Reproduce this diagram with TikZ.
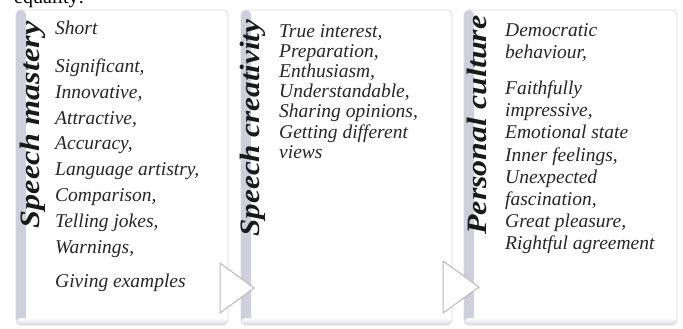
\documentclass[tikz,border=0pt]{standalone}
\usepackage{fontspec}
\setmainfont{Liberation Serif}
\usepackage{tikz}
\usetikzlibrary{positioning}

\definecolor{edgeshade}{RGB}{205,205,220}

\tikzset{
    panel/.style={draw=gray!30, line width=0.8pt, rounded corners=5pt, fill=white,
        minimum height=315pt, inner sep=0pt,
        path picture={
            \fill[left color=edgeshade, right color=white]
                (path picture bounding box.south west) rectangle ([xshift=10pt]path picture bounding box.north west);
            \fill[top color=white, bottom color=edgeshade!80]
                ([yshift=7pt]path picture bounding box.south west) rectangle (path picture bounding box.south east);
        }},
    heading/.style={rotate=90, font=\fontsize{28}{30}\selectfont\bfseries\itshape, text=black!90, inner sep=0pt},
    items/.style={anchor=north west, align=left, inner sep=0pt, text=black!85},
    arrowtri/.style={draw=gray!55, line width=1pt, fill=white, line join=miter}
}

\begin{document}
\begin{tikzpicture}[x=1pt, y=-1pt]
    \useasboundingbox (0, 0) rectangle (683, 329);

    \node [anchor=base west, inner sep=0pt, font=\fontsize{20}{22}\selectfont] (top) at (14, 4) {equality:};

    \node [panel, minimum width=212pt] (p1) at (122, 167.5) {};
    \node [panel, minimum width=211pt] (p2) at (346.5, 167.5) {};
    \node [panel, minimum width=213pt] (p3) at (570.5, 167.5) {};

    \node [heading] (t1) at (33, 125) {\scalebox{1.15}[1]{Speech mastery}};
    \node [heading] (t2) at (253, 128) {\scalebox{1.11}[1]{Speech creativity}};
    \node [heading] (t3) at (477, 125) {\scalebox{1.14}[1]{Personal culture}};

    \node [items, font=\fontsize{19.5}{25.8}\selectfont\itshape] (l1) at (55, 21)
        {Short\\[12pt]
         Significant,\\ Innovative,\\ Attractive,\\ Accuracy,\\ Language artistry,\\
         Comparison,\\ Telling jokes,\\ Warnings,\\[9pt] Giving examples};
    \node [items, font=\fontsize{19.5}{20.2}\selectfont\itshape] (l2) at (279, 24)
        {True interest,\\ Preparation,\\ Enthusiasm,\\ Understandable,\\
         Sharing opinions,\\ Getting different\\ views};
    \node [items, font=\fontsize{19.5}{22.2}\selectfont\itshape] (l3) at (505, 23)
        {Democratic\\ behaviour,\\[14pt]
         Faithfully\\ impressive,\\ Emotional state\\ Inner feelings,\\ Unexpected\\
         fascination,\\ Great pleasure,\\ Rightful agreement};

    \draw [arrowtri] (220, 263) -- (254, 288) -- (220, 313) -- cycle;
    \draw [arrowtri] (443, 261) -- (479, 287) -- (443, 313) -- cycle;
\end{tikzpicture}
\end{document}
